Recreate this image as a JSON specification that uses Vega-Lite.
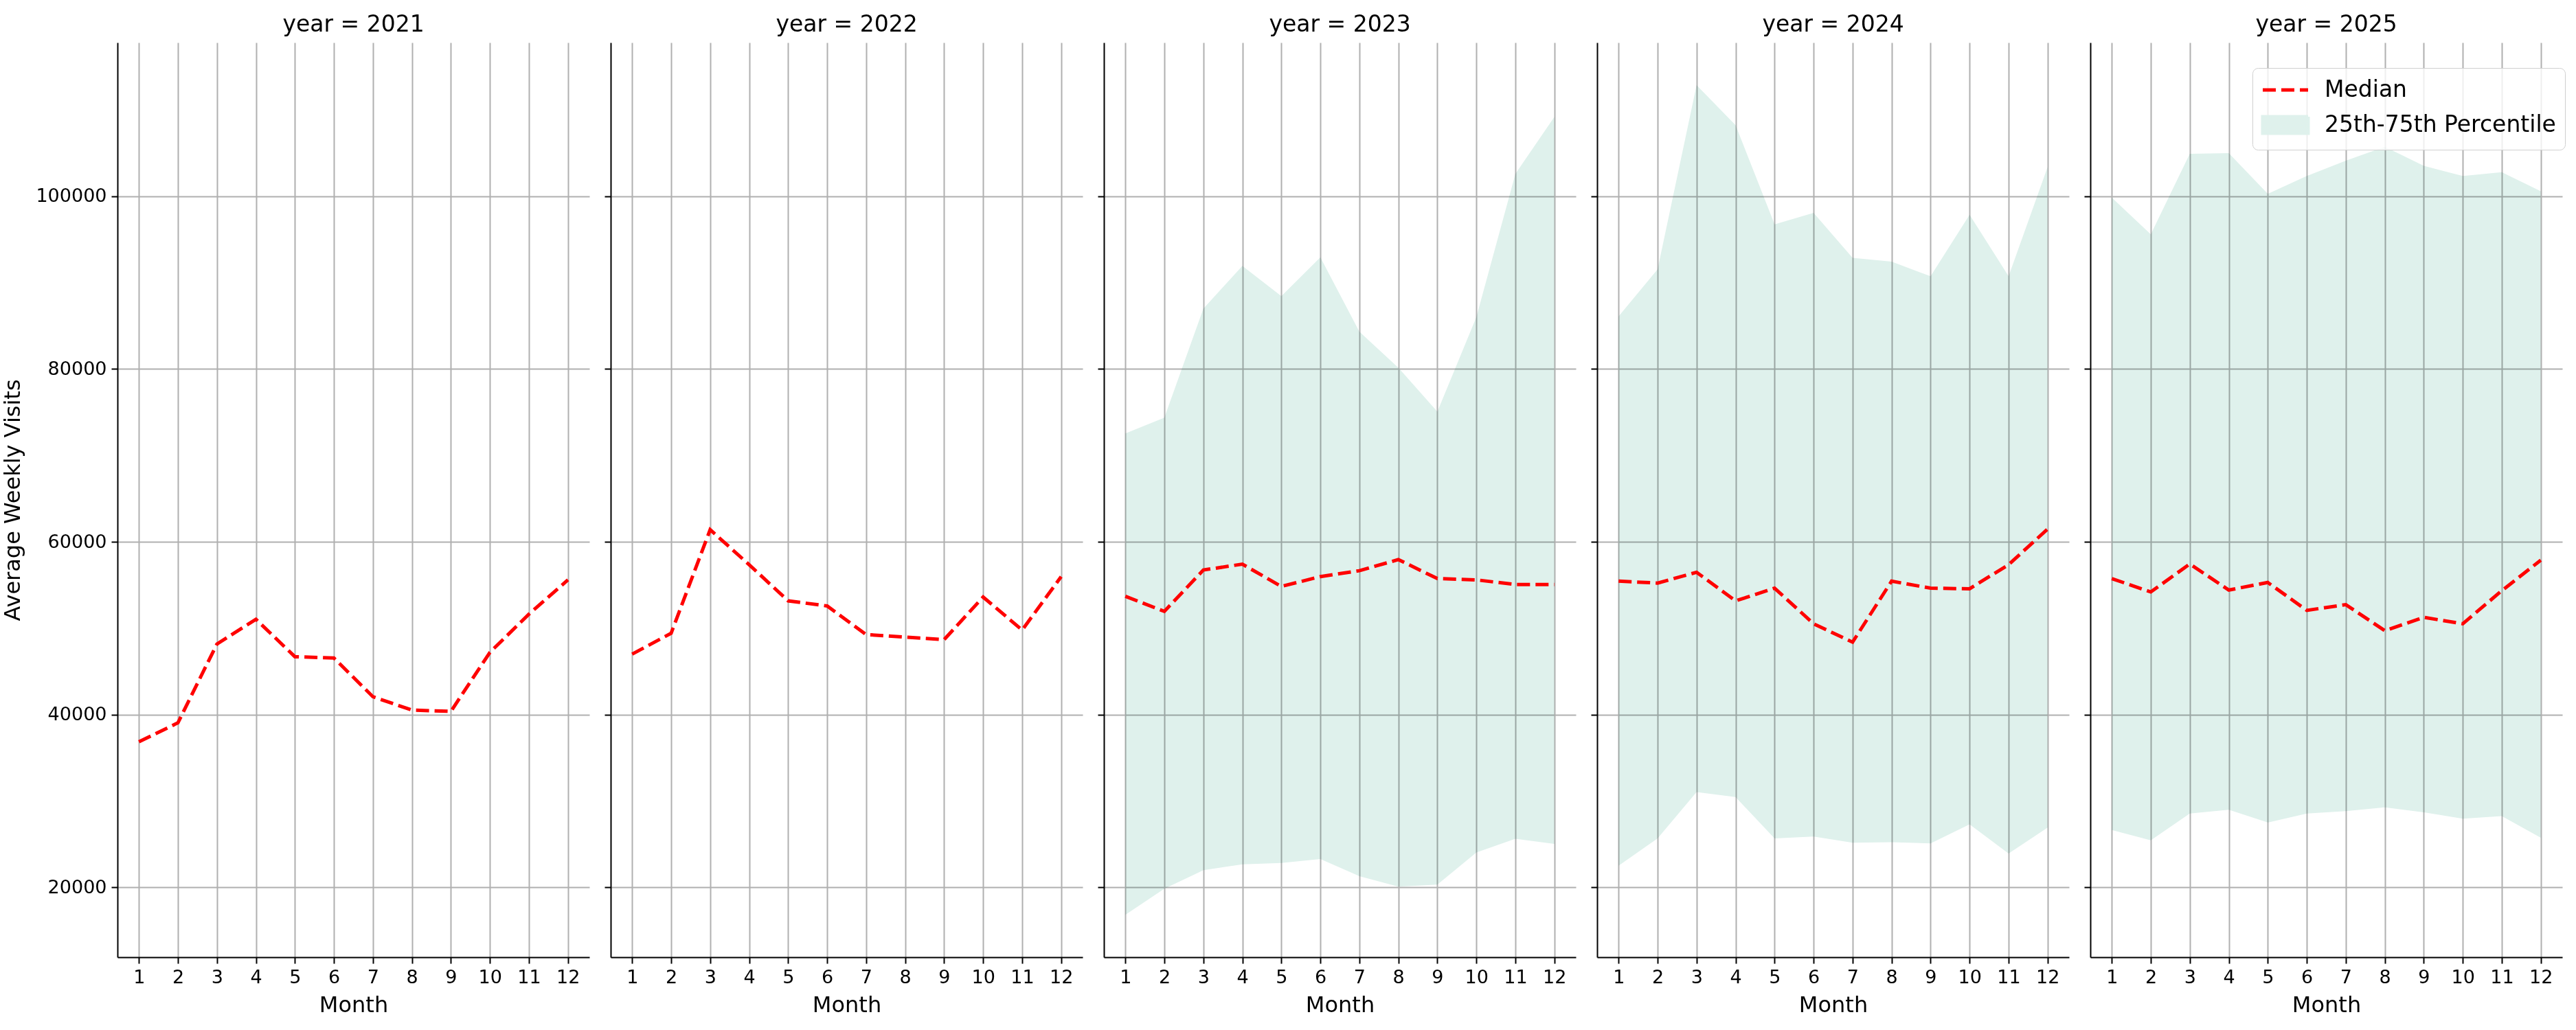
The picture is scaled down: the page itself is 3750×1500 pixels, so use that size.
{
  "$schema": "https://vega.github.io/schema/vega-lite/v6.json",
  "padding": {"left": 2, "top": 20, "right": 5, "bottom": 5},
  "config": {
    "font": "DejaVu Sans",
    "view": {"stroke": null},
    "title": {"fontSize": 33, "fontWeight": "normal", "offset": 9, "baseline": "alphabetic", "anchor": "middle", "color": "#000000", "font": "DejaVu Sans"},
    "axis": {
      "domainColor": "#000000", "domainWidth": 2,
      "tickColor": "#000000", "tickWidth": 2, "tickSize": 9,
      "gridColor": "#b0b0b0", "gridWidth": 2,
      "labelFont": "DejaVu Sans", "labelFontSize": 27, "labelColor": "#000000", "labelPadding": 7,
      "titleFont": "DejaVu Sans", "titleFontSize": 32, "titleFontWeight": "normal", "titleColor": "#000000"
    }
  },
  "data": {
    "values": [
      {"year": 2021, "month": 1, "median": 36840},
      {"year": 2021, "month": 2, "median": 39040},
      {"year": 2021, "month": 3, "median": 48160},
      {"year": 2021, "month": 4, "median": 51030},
      {"year": 2021, "month": 5, "median": 46690},
      {"year": 2021, "month": 6, "median": 46540},
      {"year": 2021, "month": 7, "median": 42060},
      {"year": 2021, "month": 8, "median": 40510},
      {"year": 2021, "month": 9, "median": 40370},
      {"year": 2021, "month": 10, "median": 47200},
      {"year": 2021, "month": 11, "median": 51620},
      {"year": 2021, "month": 12, "median": 55590},
      {"year": 2022, "month": 1, "median": 46990},
      {"year": 2022, "month": 2, "median": 49410},
      {"year": 2022, "month": 3, "median": 61400},
      {"year": 2022, "month": 4, "median": 57350},
      {"year": 2022, "month": 5, "median": 53160},
      {"year": 2022, "month": 6, "median": 52570},
      {"year": 2022, "month": 7, "median": 49260},
      {"year": 2022, "month": 8, "median": 48970},
      {"year": 2022, "month": 9, "median": 48680},
      {"year": 2022, "month": 10, "median": 53600},
      {"year": 2022, "month": 11, "median": 49780},
      {"year": 2022, "month": 12, "median": 55960},
      {"year": 2023, "month": 1, "median": 53690, "q25": 16800, "q75": 72550},
      {"year": 2023, "month": 2, "median": 51940, "q25": 19840, "q75": 74370},
      {"year": 2023, "month": 3, "median": 56730, "q25": 21970, "q75": 87000},
      {"year": 2023, "month": 4, "median": 57410, "q25": 22660, "q75": 91940},
      {"year": 2023, "month": 5, "median": 54830, "q25": 22810, "q75": 88440},
      {"year": 2023, "month": 6, "median": 55970, "q25": 23270, "q75": 92930},
      {"year": 2023, "month": 7, "median": 56650, "q25": 21290, "q75": 84330},
      {"year": 2023, "month": 8, "median": 57940, "q25": 20070, "q75": 80150},
      {"year": 2023, "month": 9, "median": 55740, "q25": 20300, "q75": 75060},
      {"year": 2023, "month": 10, "median": 55590, "q25": 24030, "q75": 86010},
      {"year": 2023, "month": 11, "median": 55050, "q25": 25620, "q75": 102590},
      {"year": 2023, "month": 12, "median": 55050, "q25": 25020, "q75": 109200},
      {"year": 2024, "month": 1, "median": 55440, "q25": 22500, "q75": 86100},
      {"year": 2024, "month": 2, "median": 55220, "q25": 25660, "q75": 91540},
      {"year": 2024, "month": 3, "median": 56470, "q25": 31030, "q75": 112870},
      {"year": 2024, "month": 4, "median": 53160, "q25": 30440, "q75": 108240},
      {"year": 2024, "month": 5, "median": 54630, "q25": 25660, "q75": 96760},
      {"year": 2024, "month": 6, "median": 50510, "q25": 25880, "q75": 98090},
      {"year": 2024, "month": 7, "median": 48380, "q25": 25150, "q75": 92870},
      {"year": 2024, "month": 8, "median": 55440, "q25": 25220, "q75": 92430},
      {"year": 2024, "month": 9, "median": 54630, "q25": 25070, "q75": 90740},
      {"year": 2024, "month": 10, "median": 54560, "q25": 27280, "q75": 97870},
      {"year": 2024, "month": 11, "median": 57350, "q25": 23900, "q75": 90740},
      {"year": 2024, "month": 12, "median": 61470, "q25": 26910, "q75": 103380},
      {"year": 2025, "month": 1, "median": 55740, "q25": 26620, "q75": 99850},
      {"year": 2025, "month": 2, "median": 54190, "q25": 25440, "q75": 95590},
      {"year": 2025, "month": 3, "median": 57430, "q25": 28530, "q75": 104930},
      {"year": 2025, "month": 4, "median": 54410, "q25": 28970, "q75": 105000},
      {"year": 2025, "month": 5, "median": 55290, "q25": 27500, "q75": 100290},
      {"year": 2025, "month": 6, "median": 52060, "q25": 28530, "q75": 102350},
      {"year": 2025, "month": 7, "median": 52720, "q25": 28820, "q75": 104120},
      {"year": 2025, "month": 8, "median": 49710, "q25": 29260, "q75": 105740},
      {"year": 2025, "month": 9, "median": 51250, "q25": 28680, "q75": 103530},
      {"year": 2025, "month": 10, "median": 50510, "q25": 27940, "q75": 102350},
      {"year": 2025, "month": 11, "median": 54340, "q25": 28240, "q75": 102790},
      {"year": 2025, "month": 12, "median": 57870, "q25": 25740, "q75": 100590}
    ]
  },
  "spacing": 31,
  "bounds": "flush",
  "resolve": {"scale": {"color": "independent"}, "legend": {"color": "independent"}},
  "hconcat": [
    {
      "width": 687, "height": 1332,
      "title": "year = 2021",
      "transform": [{"filter": "datum.year == 2021"}],
      "layer": [
        {
          "mark": {"type": "line", "color": "#ff0000", "strokeWidth": 5, "strokeDash": [19, 8]},
          "encoding": {
            "x": {"field": "month", "type": "quantitative", "scale": {"domain": [0.45, 12.55], "nice": false, "zero": false}, "axis": {"values": [1, 2, 3, 4, 5, 6, 7, 8, 9, 10, 11, 12], "format": "d", "labelOverlap": false, "title": "Month", "titlePadding": 12, "labelFlush": false}},
            "y": {"field": "median", "type": "quantitative", "scale": {"domain": [11900, 117800], "nice": false, "zero": false}, "axis": {"values": [20000, 40000, 60000, 80000, 100000], "format": "d", "title": "Average Weekly Visits", "titlePadding": 16}}
          }
        }
      ]
    },
    {
      "width": 687, "height": 1332,
      "title": "year = 2022",
      "transform": [{"filter": "datum.year == 2022"}],
      "layer": [
        {
          "mark": {"type": "line", "color": "#ff0000", "strokeWidth": 5, "strokeDash": [19, 8]},
          "encoding": {
            "x": {"field": "month", "type": "quantitative", "scale": {"domain": [0.45, 12.55], "nice": false, "zero": false}, "axis": {"values": [1, 2, 3, 4, 5, 6, 7, 8, 9, 10, 11, 12], "format": "d", "labelOverlap": false, "title": "Month", "titlePadding": 12, "labelFlush": false}},
            "y": {"field": "median", "type": "quantitative", "scale": {"domain": [11900, 117800], "nice": false, "zero": false}, "axis": {"values": [20000, 40000, 60000, 80000, 100000], "labels": false, "title": null}}
          }
        }
      ]
    },
    {
      "width": 687, "height": 1332,
      "title": "year = 2023",
      "transform": [{"filter": "datum.year == 2023"}],
      "layer": [
        {
          "mark": {"type": "area", "color": "#dff1ec", "blend": "multiply"},
          "encoding": {
            "x": {"field": "month", "type": "quantitative", "scale": {"domain": [0.45, 12.55], "nice": false, "zero": false}, "axis": {"values": [1, 2, 3, 4, 5, 6, 7, 8, 9, 10, 11, 12], "format": "d", "labelOverlap": false, "title": "Month", "titlePadding": 12, "labelFlush": false}},
            "y": {"field": "q25", "type": "quantitative", "scale": {"domain": [11900, 117800], "nice": false, "zero": false}, "axis": {"values": [20000, 40000, 60000, 80000, 100000], "labels": false, "title": null}},
            "y2": {"field": "q75"}
          }
        },
        {
          "mark": {"type": "line", "color": "#ff0000", "strokeWidth": 5, "strokeDash": [19, 8]},
          "encoding": {
            "x": {"field": "month", "type": "quantitative"},
            "y": {"field": "median", "type": "quantitative"}
          }
        }
      ]
    },
    {
      "width": 687, "height": 1332,
      "title": "year = 2024",
      "transform": [{"filter": "datum.year == 2024"}],
      "layer": [
        {
          "mark": {"type": "area", "color": "#dff1ec", "blend": "multiply"},
          "encoding": {
            "x": {"field": "month", "type": "quantitative", "scale": {"domain": [0.45, 12.55], "nice": false, "zero": false}, "axis": {"values": [1, 2, 3, 4, 5, 6, 7, 8, 9, 10, 11, 12], "format": "d", "labelOverlap": false, "title": "Month", "titlePadding": 12, "labelFlush": false}},
            "y": {"field": "q25", "type": "quantitative", "scale": {"domain": [11900, 117800], "nice": false, "zero": false}, "axis": {"values": [20000, 40000, 60000, 80000, 100000], "labels": false, "title": null}},
            "y2": {"field": "q75"}
          }
        },
        {
          "mark": {"type": "line", "color": "#ff0000", "strokeWidth": 5, "strokeDash": [19, 8]},
          "encoding": {
            "x": {"field": "month", "type": "quantitative"},
            "y": {"field": "median", "type": "quantitative"}
          }
        }
      ]
    },
    {
      "width": 687, "height": 1332,
      "title": "year = 2025",
      "transform": [{"filter": "datum.year == 2025"}],
      "layer": [
        {
          "mark": {"type": "area", "blend": "multiply"},
          "encoding": {
            "x": {"field": "month", "type": "quantitative", "scale": {"domain": [0.45, 12.55], "nice": false, "zero": false}, "axis": {"values": [1, 2, 3, 4, 5, 6, 7, 8, 9, 10, 11, 12], "format": "d", "labelOverlap": false, "title": "Month", "titlePadding": 12, "labelFlush": false}},
            "y": {"field": "q25", "type": "quantitative", "scale": {"domain": [11900, 117800], "nice": false, "zero": false}, "axis": {"values": [20000, 40000, 60000, 80000, 100000], "labels": false, "title": null}},
            "y2": {"field": "q75"},
            "color": {"datum": "25th-75th Percentile"}
          }
        },
        {
          "mark": {"type": "line", "strokeWidth": 5, "strokeDash": [19, 8]},
          "encoding": {
            "x": {"field": "month", "type": "quantitative"},
            "y": {"field": "median", "type": "quantitative"},
            "color": {
              "datum": "Median",
              "scale": {"domain": ["Median", "25th-75th Percentile"], "range": ["#ff0000", "#dff1ec"]},
              "legend": {
                "title": null,
                "orient": "none",
                "legendX": 236,
                "legendY": 37,
                "labelFont": "DejaVu Sans",
                "labelFontSize": 33,
                "labelColor": "#000000",
                "labelLimit": 1000,
                "symbolSize": 1089,
                "symbolOpacity": 1,
                "symbolOffset": 16,
                "labelOffset": 38,
                "rowPadding": 11,
                "padding": 13,
                "fillColor": "rgba(255,255,255,0.8)",
                "strokeColor": "#d0d0d0",
                "cornerRadius": 8,
                "encode": {
                  "symbols": {
                    "update": {
                      "shape": {"signal": "datum.value === 'Median' ? 'M-2,0L2,0' : 'M-2,-0.73L2,-0.73L2,0.73L-2,0.73Z'"},
                      "fill": {"signal": "datum.value === 'Median' ? 'transparent' : '#dff1ec'"},
                      "stroke": {"signal": "datum.value === 'Median' ? '#ff0000' : 'transparent'"},
                      "strokeWidth": {"value": 5},
                      "strokeDash": {"signal": "datum.value === 'Median' ? [19, 8] : [1, 0]"},
                      "opacity": {"value": 1}
                    }
                  }
                }
              }
            }
          }
        }
      ]
    }
  ]
}
